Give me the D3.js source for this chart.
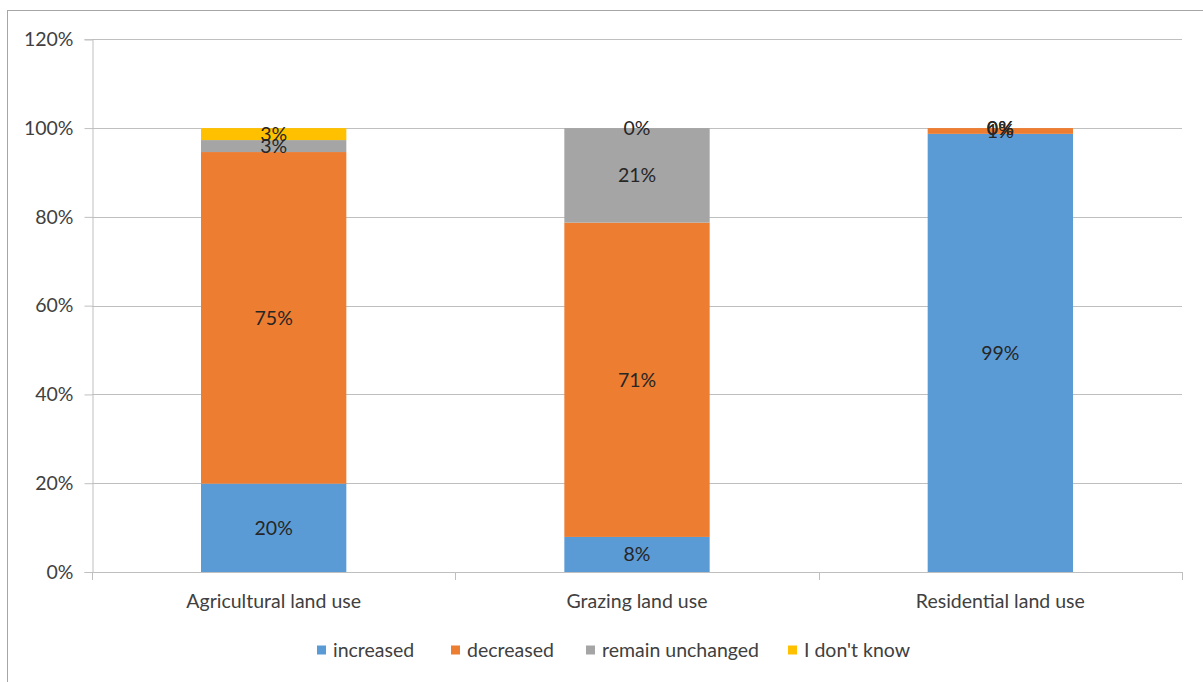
<!DOCTYPE html>
<html>
<head>
<meta charset="utf-8">
<script src="https://cdn.jsdelivr.net/npm/d3@7"></script>
<style>
  html, body { margin: 0; padding: 0; background: #fff; }
  svg { display: block; font-family: Lato, "Open Sans", sans-serif; }
</style>
</head>
<body>
<svg id="chart" width="1203" height="682"></svg>
<script>
// Land-use change perceptions (% of respondents)
const categories = ["Agricultural land use", "Grazing land use", "Residential land use"];
const increased  = [19.9, 7.9, 98.7];
const decreased  = [74.7, 70.8, 1.3];
const unchanged  = [2.7, 21.3, 0];
const dontKnow   = [2.7, 0, 0];
const seriesNames = ["increased", "decreased", "remain unchanged", "I don't know"];
const seriesColors = ["#5B9BD5", "#ED7D31", "#A5A5A5", "#FFC000"];
const yTicks = [0, 20, 40, 60, 80, 100, 120];

const FONT_SIZE = "19.5px";
const svg = d3.select("#chart");
const margin = { left: 92, right: 1182, top: 39.3, bottom: 572 };

// Outer chart frame
svg.append("rect")
  .attr("x", 7.5).attr("y", 10.5)
  .attr("width", 1400).attr("height", 900)
  .attr("fill", "none").attr("stroke", "#A6A6A6").attr("stroke-width", 1);

const x = d3.scaleBand().domain(categories)
  .range([margin.left, margin.right]).paddingInner(0.6).paddingOuter(0.3);
const y = d3.scaleLinear().domain([0, 120]).range([margin.bottom, margin.top]);

// Horizontal gridlines
svg.append("g").selectAll("line").data(yTicks.filter(d => d > 0)).join("line")
  .attr("x1", margin.left).attr("x2", margin.right)
  .attr("y1", d => Math.round(y(d)) + 0.5).attr("y2", d => Math.round(y(d)) + 0.5)
  .attr("stroke", "#BFBFBF").attr("stroke-width", 1);

// Stack the series
const rows = categories.map((c, i) => ({
  cat: c,
  "increased": increased[i],
  "decreased": decreased[i],
  "remain unchanged": unchanged[i],
  "I don't know": dontKnow[i]
}));
const stacked = d3.stack().keys(seriesNames)(rows);

const layers = svg.append("g").selectAll("g").data(stacked).join("g")
  .attr("fill", (d, i) => seriesColors[i]);
layers.selectAll("rect").data(d => d).join("rect")
  .attr("x", d => x(d.data.cat))
  .attr("width", x.bandwidth())
  .attr("y", d => y(d[1]))
  .attr("height", d => y(d[0]) - y(d[1]));

// Y axis
const yAxis = svg.append("g")
  .attr("transform", `translate(${margin.left + 0.5},0)`)
  .call(d3.axisLeft(y).tickValues(yTicks).tickFormat(d => d + "%").tickSize(8).tickPadding(11));
yAxis.select(".domain").attr("stroke", "#BFBFBF");
yAxis.selectAll(".tick line").attr("stroke", "#BFBFBF");
yAxis.selectAll(".tick text").attr("fill", "#404040")
  .style("font-size", FONT_SIZE).style("font-family", "Lato, 'Open Sans', sans-serif");

// X axis with boundary ticks between categories
const bounds = d3.range(categories.length + 1)
  .map(i => margin.left + i * (margin.right - margin.left) / categories.length);
svg.append("line")
  .attr("x1", margin.left).attr("x2", margin.right)
  .attr("y1", margin.bottom + 0.5).attr("y2", margin.bottom + 0.5)
  .attr("stroke", "#BFBFBF");
svg.append("g").selectAll("line").data(bounds).join("line")
  .attr("x1", d => Math.round(d) + 0.5).attr("x2", d => Math.round(d) + 0.5)
  .attr("y1", margin.bottom).attr("y2", margin.bottom + 8)
  .attr("stroke", "#BFBFBF");
svg.append("g").selectAll("text").data(categories).join("text")
  .attr("x", d => x(d) + x.bandwidth() / 2)
  .attr("y", 608)
  .attr("text-anchor", "middle")
  .attr("fill", "#404040")
  .style("font-size", FONT_SIZE)
  .text(d => d);

// Segment value labels
const labels = svg.append("g");
stacked.forEach(layer => {
  layer.forEach(d => {
    const v = d[1] - d[0];
    labels.append("text")
      .attr("x", x(d.data.cat) + x.bandwidth() / 2)
      .attr("y", y((d[0] + d[1]) / 2))
      .attr("dy", "0.35em")
      .attr("text-anchor", "middle")
      .attr("fill", "#262626")
      .style("font-size", FONT_SIZE)
      .text(Math.round(v) + "%");
  });
});

// Legend
const legendX = [317, 451, 586, 788];
const legend = svg.append("g").selectAll("g").data(seriesNames).join("g")
  .attr("transform", (d, i) => `translate(${legendX[i]},650)`);
legend.append("rect")
  .attr("x", 0).attr("y", -4.5).attr("width", 9).attr("height", 9)
  .attr("fill", (d, i) => seriesColors[i]);
legend.append("text")
  .attr("x", 16).attr("dy", "0.35em")
  .attr("fill", "#404040")
  .style("font-size", FONT_SIZE)
  .text(d => d);
</script>
</body>
</html>
